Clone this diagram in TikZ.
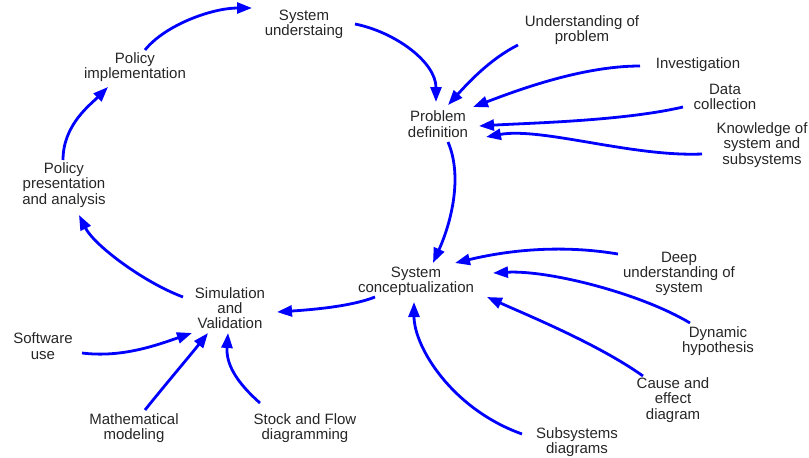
\documentclass[tikz,border=0pt]{standalone}
\usepackage{fontspec}
\setmainfont{Liberation Sans}
\usetikzlibrary{arrows.meta,calc}
\begin{document}
\begin{tikzpicture}[x=1pt,y=-1pt,
  lbl/.style={align=center, inner sep=0pt, text=black!85, font=\fontsize{15}{15.3}\selectfont},
  link/.style={draw=blue, line width=2.8pt, -{Triangle[length=15pt,width=11pt]}}]
\useasboundingbox (0,0) rectangle (809,458);
\node[lbl] (su) at (304,24) {System\\understaing};
\node[lbl] (pi) at (135,67) {Policy\\implementation};
\node[lbl] (pp) at (64,185) {Policy\\presentation\\and analysis};
\node[lbl] (sv) at (230,308) {Simulation\\and\\Validation};
\node[lbl] (sc) at (416,281) {System\\conceptualization};
\node[lbl] (pd) at (438,124) {Problem\\definition};
\node[lbl] (up) at (582,30) {Understanding of\\problem};
\node[lbl] (inv) at (698,65) {Investigation};
\node[lbl] (dc) at (725,97) {Data\\collection};
\node[lbl] (ks) at (762,145) {Knowledge of\\system and\\subsystems};
\node[lbl] (du) at (679,274) {Deep\\understanding of\\system};
\node[lbl] (dh) at (718,341) {Dynamic\\hypothesis};
\node[lbl] (ce) at (673,400) {Cause and\\effect\\diagram};
\node[lbl] (sd) at (577,442) {Subsystems\\diagrams};
\node[lbl] (sw) at (43,346) {Software\\use};
\node[lbl] (mm) at (134,428) {Mathematical\\modeling};
\node[lbl] (sf) at (305,428) {Stock and Flow\\diagramming};
% main loop
\draw[link] ($(pi)+(10,-17)$) .. controls +(20,-25) and +(-40,0) .. ($(su)+(-52,-16)$);
\draw[link] ($(su)+(51,0)$) .. controls +(40,8) and +(0,-40) .. ($(pd)+(-2,-22)$);
\draw[link] ($(pd)+(10,18)$) .. controls +(15,35) and +(18,-40) .. ($(sc)+(17,-18)$);
\draw[link] ($(sc)+(-41,16)$) .. controls +(-25,10) and +(30,-2) .. ($(sv)+(47,4)$);
\draw[link] ($(sv)+(-47,-11)$) .. controls +(-40,-15) and +(15,30) .. ($(pp)+(15,30)$);
\draw[link] ($(pp)+(-1,-25)$) .. controls +(0,-35) and +(-18,18) .. ($(pi)+(-27,20)$);
% inputs to problem definition
\draw[link] ($(up)+(-64,15)$) .. controls +(-28,14) and +(20,-22) .. ($(pd)+(10,-19)$);
\draw[link] ($(inv)+(-58,1)$) .. controls +(-60,0) and +(40,-15) .. ($(pd)+(35,-17)$);
\draw[link] ($(dc)+(-42,10)$) .. controls +(-60,14) and +(50,-3) .. ($(pd)+(41,2)$);
\draw[link] ($(ks)+(-60,9)$) .. controls +(-70,3) and +(55,-10) .. ($(pd)+(48,13)$);
% inputs to system conceptualization
\draw[link] ($(du)+(-61,-20)$) .. controls +(-60,-10) and +(50,-12) .. ($(sc)+(39,-18)$);
\draw[link] ($(dh)+(-28,-18)$) .. controls +(-50,-30) and +(55,-3) .. ($(sc)+(77,-8)$);
\draw[link] ($(ce)+(-30,-24)$) .. controls +(-45,-32) and +(40,18) .. ($(sc)+(71,16)$);
\draw[link] ($(sd)+(-55,-8)$) .. controls +(-70,-25) and +(0,45) .. ($(sc)+(-2,21)$);
% inputs to simulation
\draw[link] ($(sw)+(39,7)$) .. controls +(40,5) and +(-35,12) .. ($(sv)+(-38,25)$);
\draw[link] ($(mm)+(11,-18)$) .. controls +(20,-25) and +(-20,25) .. ($(sv)+(-22,25)$);
\draw[link] ($(sf)+(-45,-25)$) .. controls +(-25,-22) and +(-2,30) .. ($(sv)+(-2,25)$);
\end{tikzpicture}
\end{document}
